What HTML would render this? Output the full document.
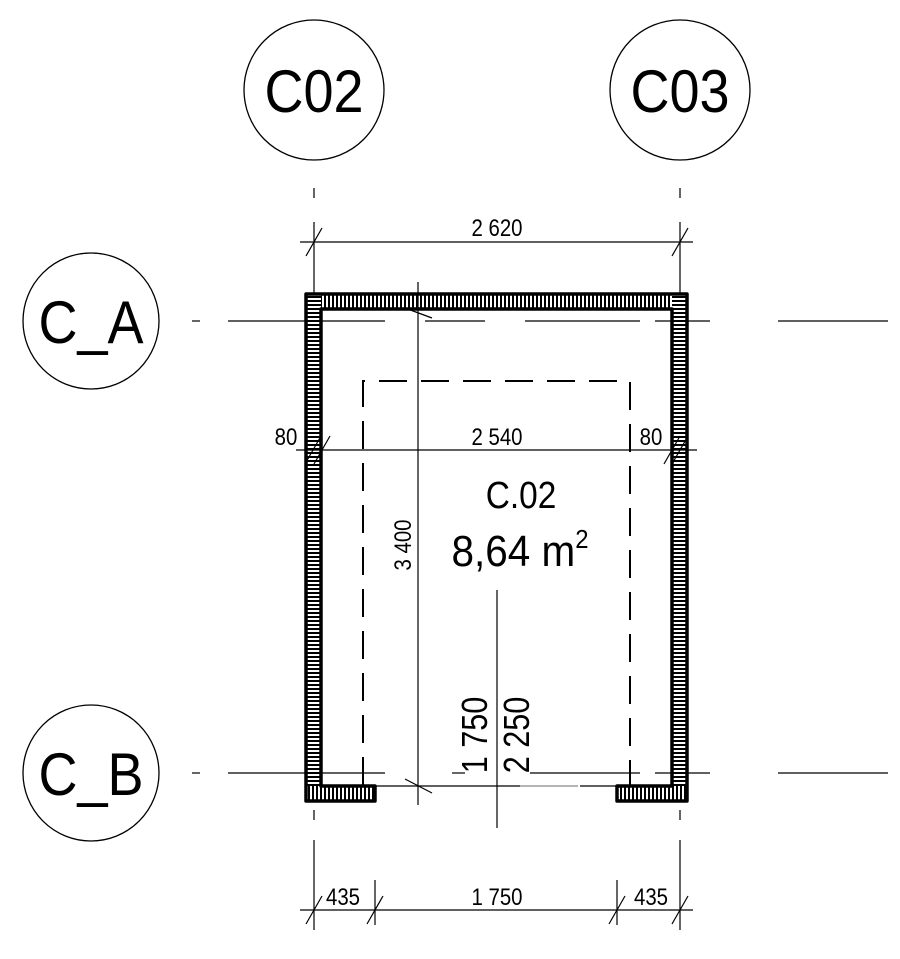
<!DOCTYPE html>
<html><head><style>html,body{margin:0;padding:0;background:#fff}svg{display:block}</style></head>
<body>
<svg width="900" height="959" viewBox="0 0 900 959" xmlns="http://www.w3.org/2000/svg" font-family="Liberation Sans, sans-serif">
<defs>
<pattern id="hv" width="4" height="16" patternUnits="userSpaceOnUse"><rect width="4" height="16" fill="#fff"/><rect x="0" width="2" height="16" fill="#000"/></pattern>
<pattern id="hh" width="16" height="4" patternUnits="userSpaceOnUse"><rect width="16" height="4" fill="#fff"/><rect y="0" width="16" height="2" fill="#000"/></pattern>
</defs>
<g fill="none" stroke="#000" stroke-width="1.3">
<circle cx="314" cy="90" r="70"/><circle cx="680" cy="90" r="70"/>
<circle cx="91" cy="321" r="68"/><circle cx="91" cy="773" r="68"/>
</g>
<g font-size="60" text-anchor="middle">
<g transform="translate(314,112) scale(0.9,1)"><text>C02</text></g>
<g transform="translate(680,112) scale(0.9,1)"><text>C03</text></g>
<g transform="translate(91,343) scale(0.9,1)"><text>C_A</text></g>
<g transform="translate(91,795) scale(0.9,1)"><text>C_B</text></g>
</g>
<g stroke="#000" stroke-width="1.2">
<line x1="314" y1="188" x2="314" y2="198"/><line x1="680" y1="188" x2="680" y2="198"/>
<line x1="314" y1="810" x2="314" y2="820"/><line x1="680" y1="810" x2="680" y2="820"/>
<line x1="314" y1="840" x2="314" y2="930"/><line x1="680" y1="840" x2="680" y2="930"/>
<line x1="192" y1="321" x2="200" y2="321"/><line x1="192" y1="773" x2="200" y2="773"/>
<line x1="228" y1="321" x2="385" y2="321"/>
<line x1="425" y1="321" x2="485" y2="321"/>
<line x1="525" y1="321" x2="640" y2="321"/><line x1="655" y1="321" x2="710" y2="321"/>
<line x1="778" y1="321" x2="888" y2="321"/>
<line x1="228" y1="773" x2="385" y2="773"/>
<line x1="452" y1="773" x2="465" y2="773"/>
<line x1="530" y1="773" x2="640" y2="773"/><line x1="655" y1="773" x2="710" y2="773"/>
<line x1="778" y1="773" x2="888" y2="773"/>
</g>
<rect x="306" y="294" width="381" height="15" fill="url(#hv)"/>
<rect x="306" y="294" width="15" height="507" fill="url(#hh)"/>
<rect x="672" y="294" width="15" height="507" fill="url(#hh)"/>
<rect x="306" y="786" width="69" height="15" fill="url(#hv)"/>
<rect x="617" y="786" width="70" height="15" fill="url(#hv)"/>
<path d="M306 801 V294 H687 V801 H617 V786 H672 V309 H321 V786 H375 V801 Z" fill="none" stroke="#000" stroke-width="3.5" stroke-linejoin="round"/>
<line x1="375" y1="786" x2="520" y2="786" stroke="#000" stroke-width="1.3"/>
<line x1="520" y1="786" x2="578" y2="786" stroke="#888" stroke-width="1.3"/>
<line x1="580" y1="786" x2="617" y2="786" stroke="#000" stroke-width="1.3"/>
<path d="M363 785 V381 H630 V785" fill="none" stroke="#000" stroke-width="2" stroke-dasharray="28 14"/>
<g stroke="#000" stroke-width="1.2">
<line x1="300" y1="242" x2="693" y2="242"/>
<line x1="314" y1="222" x2="314" y2="294"/><line x1="680" y1="222" x2="680" y2="294"/>
<line x1="306" y1="256" x2="322" y2="228"/><line x1="672" y1="256" x2="688" y2="228"/>
<line x1="296" y1="450" x2="697" y2="450"/>
<line x1="305" y1="464" x2="321" y2="436"/><line x1="314" y1="464" x2="330" y2="436"/>
<line x1="664" y1="464" x2="680" y2="436"/><line x1="672" y1="464" x2="688" y2="436"/>
<line x1="418" y1="282" x2="418" y2="805"/>
<line x1="405" y1="308" x2="432" y2="318"/><line x1="405" y1="779" x2="432" y2="793"/>
<line x1="497" y1="590" x2="497" y2="828"/>
<line x1="300" y1="910" x2="693" y2="910"/>
<line x1="375" y1="880" x2="375" y2="925"/><line x1="617" y1="880" x2="617" y2="925"/>
<line x1="306" y1="924" x2="322" y2="896"/><line x1="367" y1="924" x2="383" y2="896"/>
<line x1="609" y1="924" x2="625" y2="896"/><line x1="672" y1="924" x2="688" y2="896"/>
</g>
<g font-size="24" text-anchor="middle">
<g transform="translate(497,236) scale(0.85,1)"><text>2 620</text></g>
<g transform="translate(286,445) scale(0.85,1)"><text>80</text></g>
<g transform="translate(497,445) scale(0.85,1)"><text>2 540</text></g>
<g transform="translate(651,445) scale(0.85,1)"><text>80</text></g>
<g transform="translate(343,905) scale(0.85,1)"><text>435</text></g>
<g transform="translate(497,905) scale(0.85,1)"><text>1 750</text></g>
<g transform="translate(651,905) scale(0.85,1)"><text>435</text></g>
<g transform="translate(411,545) rotate(-90) scale(0.85,1)"><text>3 400</text></g>
</g>
<g font-size="36" text-anchor="middle">
<g transform="translate(487,735) rotate(-90) scale(0.85,1)"><text>1 750</text></g>
<g transform="translate(529,735) rotate(-90) scale(0.85,1)"><text>2 250</text></g>
</g>
<g transform="translate(521,508) scale(0.88,1)"><text font-size="38" text-anchor="middle">C.02</text></g>
<g transform="translate(520,566) scale(0.92,1)"><text font-size="44" text-anchor="middle">8,64 m<tspan font-size="26" dy="-18">2</tspan></text></g>
</svg>
</body></html>
